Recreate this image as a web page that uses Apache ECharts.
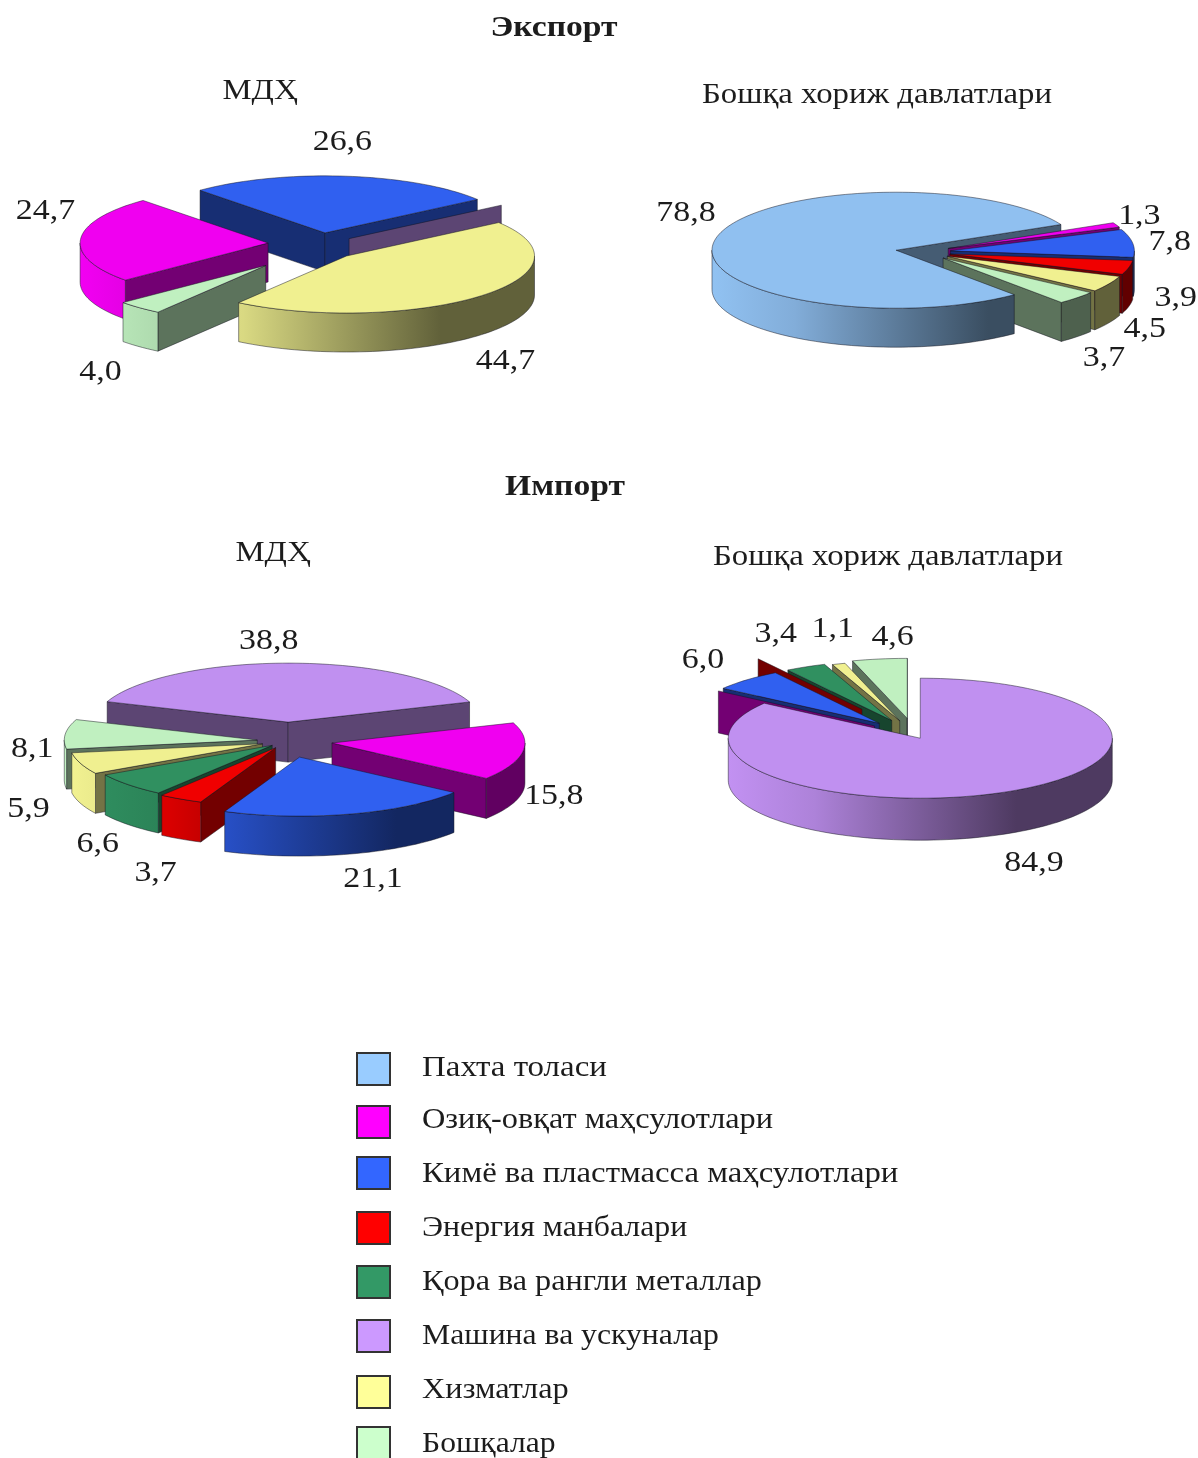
<!DOCTYPE html>
<html>
<head>
<meta charset="utf-8">
<style>html,body{margin:0;padding:0;background:#fff}#c{width:1198px;height:1458px;filter:blur(0.45px)}</style>
<script src="https://cdn.jsdelivr.net/npm/echarts@6/dist/echarts.min.js"></script>
</head>
<body>
<div id="c"></div>
<script>
// ---------- categories ----------
const categories = ['Пахта толаси','Озиқ-овқат маҳсулотлари','Кимё ва пластмасса маҳсулотлари','Энергия манбалари','Қора ва рангли металлар','Машина ва ускуналар','Хизматлар','Бошқалар'];
const categoryColors = ['#99ccff','#ff00ff','#3366ff','#ff0000','#339966','#cc99ff','#ffff99','#ccffcc'];

// ---------- values, clockwise slice order ----------
const exportCisNames = ['Озиқ-овқат маҳсулотлари','Кимё ва пластмасса маҳсулотлари','Машина ва ускуналар','Хизматлар','Бошқалар'];
const exportCisValues = [24.7, 26.6, 0, 44.7, 4.0];
const exportOtherNames = ['Пахта толаси','Озиқ-овқат маҳсулотлари','Кимё ва пластмасса маҳсулотлари','Энергия манбалари','Хизматлар','Бошқалар'];
const exportOtherValues = [78.8, 1.3, 7.8, 3.9, 4.5, 3.7];
const importCisNames = ['Озиқ-овқат маҳсулотлари','Кимё ва пластмасса маҳсулотлари','Энергия манбалари','Қора ва рангли металлар','Хизматлар','Бошқалар','Машина ва ускуналар'];
const importCisValues = [15.8, 21.1, 3.7, 6.6, 5.9, 8.1, 38.8];
const importOtherNames = ['Машина ва ускуналар','Озиқ-овқат маҳсулотлари','Кимё ва пластмасса маҳсулотлари','Энергия манбалари','Қора ва рангли металлар','Хизматлар','Бошқалар'];
const importOtherValues = [84.9, 0, 6.0, 0, 3.4, 1.1, 4.6];

// ---------- pie layout (projection, explosion, paint order, label nudges) ----------
const pies = [
  {names:exportCisNames, values:exportCisValues, cx:315, cy:247, rx:188, ry:57, depth:39, start:-220.6,
   explode:[.25,.25,.25,.25,.39], shift:[[0,-3],[5,0],[-4,0],[-2,-1],[0,2]], order:[1,0,4,2,3], wallFirst:[],
   nudge:[[-35,-29],[-3,-35],[0,0],[25,64],[-39,64]]},
  {names:exportOtherNames, values:exportOtherValues, cx:923, cy:252, rx:184, ry:58, depth:39, start:50,
   explode:[.15,.15,.15,.15,.15,.15], shift:null, order:[1,2,3,4,5,0], wallFirst:[0],
   nudge:[[-30,-26],[23,-10],[37,-2],[47,30],[36,44],[27,60]]},
  {names:importCisNames, values:importCisValues, cx:288, cy:741, rx:193, ry:59, depth:40, start:-20,
   explode:[.23,.23,.13,.11,.14,.16,.32], shift:[[0,0],[0,3],[0,0],[0,0],[0,0],[0,0],[0,0]], order:[6,5,4,3,2,0,1], wallFirst:[],
   nudge:[[31,44],[23,64],[-25,73],[-31,59],[-52,45],[-33,14],[-20,-23]]},
  {names:importOtherNames, values:importOtherValues, cx:915, cy:735, rx:192, ry:60, depth:42, start:-90,
   explode:[.06,.26,.27,.51,.27,.25,.28], shift:null, order:[6,5,4,3,2,1,0], wallFirst:[],
   nudge:[[26,71],[0,0],[-44,-20],[0,0],[-30,-33],[-6,-36],[13,-23]]}
];
const titles = [
  {text:'Экспорт', x:554, y:29, bold:true},
  {text:'МДҲ', x:260, y:91},
  {text:'Бошқа хориж давлатлари', x:877, y:95},
  {text:'Импорт', x:565, y:488, bold:true},
  {text:'МДҲ', x:273, y:553},
  {text:'Бошқа хориж давлатлари', x:888, y:557}
];
const legendSwatchY = [1069,1122,1173,1228,1282,1336,1392,1443];
const legendTextY = [1068,1120,1174,1228,1282,1336,1390,1444];
const legendStretch = [1.135,1.114,1.13,1.097,1.11,1.093,1.115,1.09];
const SERIF = '"Liberation Serif","Times New Roman",serif';
const FONT_SIZE = 29, LABEL_STRETCH = 1.17, TITLE_STRETCH = 1.13, BOLD_STRETCH = 1.157;
const INK = '#1c1c1c';

function shade(hex, f){
  const n = parseInt(hex.slice(1),16);
  const c = [n>>16&255, n>>8&255, n&255].map(v=>Math.round(v*f));
  return 'rgb('+c.join(',')+')';
}
const rad = d => d*Math.PI/180;

function buildSlices(pie){
  const total = pie.values.reduce((a,b)=>a+b,0);
  let a = pie.start;
  return pie.values.map((v,i)=>{
    const a1 = a, a2 = a + v/total*360; a = a2;
    const m = (a1+a2)/2, f = pie.explode[i], sh = pie.shift ? pie.shift[i] : [0,0];
    return {a1, a2, m, f,
      apex:[pie.cx + f*pie.rx*Math.cos(rad(m)) + sh[0], pie.cy + f*pie.ry*Math.sin(rad(m)) + sh[1]],
      color:categoryColors[categories.indexOf(pie.names[i])]};
  });
}

function makeRender(pie){
  const slices = buildSlices(pie);
  const EDGE = 'rgba(20,20,30,0.6)';
  return function(params, api){
    const i = params.dataIndex, s = slices[i], d = pie.depth, value = api.value(0);
    const rank = (pie.order.indexOf(i)+1)*10;
    const rim = (ang) => [s.apex[0]+pie.rx*Math.cos(rad(ang)), s.apex[1]+pie.ry*Math.sin(rad(ang))];
    const down = (p) => [p[0], p[1]+d];
    const children = [];
    const wallZ = pie.wallFirst.includes(i) ? 1 : rank+1;
    const addWall = ang => {
      const r = rim(ang);
      children.push({type:'polygon', z2:wallZ, shape:{points:[s.apex,r,down(r),down(s.apex)]},
        style:{fill:shade(s.color,.45), stroke:EDGE, lineWidth:.8}});
    };
    if (Math.cos(rad(s.a1)) < 0) addWall(s.a1);
    if (Math.cos(rad(s.a2)) > 0) addWall(s.a2);
    // curved outer wall: light from the left, full shade from half a radius right of the apex
    const L = s.apex[0] - pie.rx, R = s.apex[0] + pie.rx*0.5;
    for (let k=-2; k<=2; k++){
      const lo = Math.max(s.a1, k*360), hi = Math.min(s.a2, k*360+180);
      if (hi <= lo) continue;
      const top = [];
      for (let t=lo; t<hi; t+=2) top.push(rim(t));
      top.push(rim(hi));
      const pts = top.concat(top.slice().reverse().map(down));
      children.push({type:'polygon', z2:rank+2, shape:{points:pts},
        style:{fill:{type:'linear',global:true,x:L,y:0,x2:R,y2:0,
          colorStops:[{offset:0,color:shade(s.color,.95)},{offset:.3,color:shade(s.color,.85)},{offset:1,color:shade(s.color,.38)}]},
          stroke:EDGE, lineWidth:.8}});
    }
    // top surface
    if (s.a2 > s.a1){
      const pts = [s.apex];
      for (let t=s.a1; t<s.a2; t+=2) pts.push(rim(t));
      pts.push(rim(s.a2));
      children.push({type:'polygon', z2:rank+3, shape:{points:pts},
        style:{fill:shade(s.color,.94), stroke:EDGE, lineWidth:.8}});
    }
    // value label
    if (value > 0){
      const p = rim(s.m), n = pie.nudge[i];
      children.push({type:'text', z2:1000, x:p[0]+n[0], y:p[1]+n[1]+1, scaleX:LABEL_STRETCH, style:{x:0, y:0,
        text:value.toFixed(1).replace('.',','), fill:INK, align:'center', verticalAlign:'middle',
        font:FONT_SIZE+'px '+SERIF}});
    }
    return {type:'group', children};
  };
}

const pieSeries = pies.map((pie,k)=>({
  type:'custom', name:'pie'+k, coordinateSystem:'none', silent:true, animation:false,
  data:pie.values.map(v=>[v]), renderItem:makeRender(pie)
}));

const titleGraphics = titles.map(t=>({type:'text', x:t.x, y:t.y, scaleX:t.bold?BOLD_STRETCH:TITLE_STRETCH, silent:true,
  style:{x:0, y:0, text:t.text, fill:INK, align:'center', verticalAlign:'middle',
    font:(t.bold?'bold ':'')+FONT_SIZE+'px '+SERIF}}));
const legendGraphics = [];
categories.forEach((c,i)=>{
  legendGraphics.push({type:'rect', silent:true, shape:{x:357, y:legendSwatchY[i]-16, width:33, height:32},
    style:{fill:categoryColors[i], stroke:'#333', lineWidth:2}});
  legendGraphics.push({type:'text', x:422, y:legendTextY[i], scaleX:legendStretch[i], silent:true,
    style:{x:0, y:0, text:c, fill:INK, align:'left', verticalAlign:'middle', font:FONT_SIZE+'px '+SERIF}});
});

const chart = echarts.init(document.getElementById('c'), null, {renderer:'canvas'});
chart.setOption({
  backgroundColor:'#ffffff',
  animation:false,
  graphic:{elements:titleGraphics.concat(legendGraphics)},
  series:pieSeries
});
</script>
</body>
</html>
